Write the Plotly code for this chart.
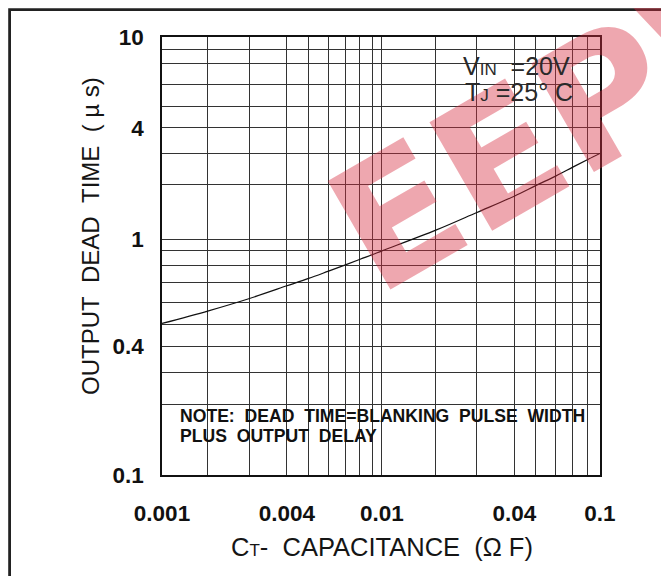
import plotly.graph_objects as go

# ---- data ----
cap_uF = [0.001, 0.00163, 0.00251, 0.00372, 0.00467, 0.00576, 0.00688, 0.00803,
          0.00918, 0.0101, 0.0178, 0.0274, 0.0406, 0.0514, 0.063, 0.0755, 0.0884, 0.1]
dead_time_us = [0.492, 0.562, 0.640, 0.731, 0.790, 0.853, 0.911, 0.967,
                1.016, 1.055, 1.312, 1.580, 1.875, 2.106, 2.322, 2.552, 2.767, 2.94]

x_tick_labels = ["0.001", "0.004", "0.01", "0.04", "0.1"]
y_tick_labels = ["0.1", "0.4", "1", "4", "10"]

# ---- axis/grid styling (positions of the printed grid lines) ----
x_tick_pos = [0.001, 0.00372, 0.0101, 0.0406, 0.1]
x_grid_pos = [0.00162, 0.0025, 0.00469, 0.00576, 0.00686, 0.00801, 0.00916,
              0.0178, 0.0274, 0.051, 0.0628, 0.0751, 0.0879]
y_tick_pos = [0.1, 0.388, 1.19, 3.85, 10]
y_grid_pos = [0.21, 0.293, 0.489, 0.612, 0.754, 0.902, 1.055, 2.11, 2.94,
              4.84, 6.08, 7.56, 8.78]

FONT = "Liberation Sans"
GRID = "#333333"

fig = go.Figure()
fig.add_trace(go.Scatter(x=cap_uF, y=dead_time_us, mode="lines",
                         line=dict(color="#111111", width=1.2, shape="spline"),
                         hoverinfo="skip"))

axis_common = dict(
    type="log", tickmode="array", showgrid=True, gridcolor=GRID, gridwidth=1.1,
    showline=True, mirror=True, linecolor="#111111", linewidth=1.6,
    ticks="", zeroline=False,
    tickfont=dict(family=FONT, size=22.5, color="#111111", weight="bold"),
)

fig.update_xaxes(range=[-3, -1], tickvals=x_tick_pos, ticktext=x_tick_labels,
                 ticklabelstandoff=17,
                 minor=dict(tickmode="array", tickvals=x_grid_pos, showgrid=True,
                            gridcolor=GRID, gridwidth=1.1, ticks=""),
                 **axis_common)
fig.update_yaxes(range=[-1, 1], tickvals=y_tick_pos, ticktext=y_tick_labels,
                 ticklabelstandoff=12,
                 minor=dict(tickmode="array", tickvals=y_grid_pos, showgrid=True,
                            gridcolor=GRID, gridwidth=1.1, ticks=""),
                 **axis_common)

# page body margin offset (the html page places the figure 8px from the corner)
OFF = 8
W, H = 669 - OFF, 576 - OFF
L, T = 162 - OFF, 37 - OFF
PW, PH = 438, 438
R, B = W - L - PW, H - T - PH


def px(xp):  # screenshot x pixel -> paper x
    return (xp - OFF - L) / PW


def py(yp):  # screenshot y pixel -> paper y
    return (T + PH - (yp - OFF)) / PH


shapes = [
    # white band behind the note
    dict(type="rect", xref="paper", yref="paper", x0=px(163.5), x1=px(598.5),
         y0=py(430), y1=py(405.5), fillcolor="white", line=dict(width=0), layer="between"),
    dict(type="rect", xref="paper", yref="paper", x0=px(163.5), x1=px(385),
         y0=py(445), y1=py(429), fillcolor="white", line=dict(width=0), layer="between"),
    # outer frame of the figure
    dict(type="rect", xref="paper", yref="paper", x0=px(9.6), x1=px(700),
         y0=py(620), y1=py(9.6), line=dict(color="#222222", width=2.8),
         fillcolor="rgba(0,0,0,0)", layer="above"),
]
fig.update_layout(shapes=shapes)

nb = "\u00a0"
annotations = [
    # watermark
    dict(text="EEPW", xref="paper", yref="paper", x=px(585), y=py(108),
         xanchor="center", yanchor="middle", showarrow=False, textangle=-30,
         font=dict(family="DejaVu Sans", size=172, color="rgba(215,45,65,0.42)", weight="bold")),
    # conditions
    dict(text="V<span style='font-size:17px'>IN</span>" + nb * 2 + "=20V",
         xref="paper", yref="paper", x=px(461), y=py(66), xanchor="left", yanchor="middle",
         showarrow=False, font=dict(family=FONT, size=25, color="#2a2a2a")),
    dict(text="T<span style='font-size:17px'>J</span>" + nb + "=25°" + nb + "C",
         xref="paper", yref="paper", x=px(463), y=py(92), xanchor="left", yanchor="middle",
         showarrow=False, font=dict(family=FONT, size=25, color="#2a2a2a")),
    # note
    dict(text="NOTE:" + nb * 2 + "DEAD" + nb * 2 + "TIME=BLANKING" + nb * 2 + "PULSE" + nb * 2 + "WIDTH",
         xref="paper", yref="paper", x=px(178), y=py(416), xanchor="left", yanchor="middle",
         showarrow=False, font=dict(family=FONT, size=17.6, color="#111111", weight="bold")),
    dict(text="PLUS" + nb * 2 + "OUTPUT" + nb * 2 + "DELAY",
         xref="paper", yref="paper", x=px(178), y=py(436), xanchor="left", yanchor="middle",
         showarrow=False, font=dict(family=FONT, size=17.6, color="#111111", weight="bold")),
    # axis titles
    dict(text="C<span style='font-size:17px'>T</span>-" + nb * 2 + "CAPACITANCE" + nb * 2 + "(Ω" + nb + "F)",
         xref="paper", yref="paper", x=px(382), y=py(547), xanchor="center", yanchor="middle",
         showarrow=False, font=dict(family=FONT, size=25.5, color="#151515")),
    dict(text="OUTPUT" + nb * 2 + "DEAD" + nb * 2 + "TIME" + nb * 2 + "(" + nb + "µ" + nb + "s)",
         xref="paper", yref="paper", x=px(90), y=py(236), xanchor="center", yanchor="middle",
         textangle=-90, showarrow=False, font=dict(family=FONT, size=24, color="#151515")),
]
fig.update_layout(annotations=annotations)

fig.update_layout(width=W, height=H, margin=dict(l=L, r=R, t=T, b=B, pad=0),
                  paper_bgcolor="white", plot_bgcolor="white", showlegend=False)

fig.write_html("out.html")
